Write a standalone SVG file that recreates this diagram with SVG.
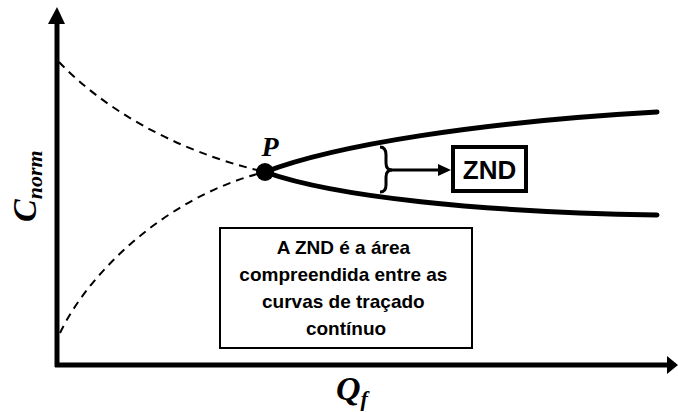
<svg xmlns="http://www.w3.org/2000/svg" width="678" height="412" viewBox="0 0 678 412">
<style>
.axis{stroke:#000;stroke-width:5;fill:none}
.solid{stroke:#000;stroke-width:5;fill:none;stroke-linecap:round}
.dash{stroke:#000;stroke-width:2;fill:none;stroke-dasharray:8,6}
.lbl{font-family:"Liberation Sans",Arial,sans-serif;font-weight:bold;fill:#000}
.math{font-family:"Liberation Serif","DejaVu Serif",serif;font-weight:bold;font-style:italic;fill:#000}
</style>
<rect width="678" height="412" fill="#fff"/>
<g id="connectors">
<line class="axis" x1="57" y1="367" x2="57" y2="22"/>
<polygon points="48,24 57,7 65,24" fill="#000"/>
<line class="axis" x1="55" y1="365" x2="668" y2="365"/>
<polygon points="667,356 678,365 667,374" fill="#000"/>
<path class="dash" d="M59,62 C100,105 170,150 265,172"/>
<path class="dash" d="M60,333 C90,270 170,195 265,172"/>
<path class="solid" d="M265,172 C335,145 480,122 657,112"/>
<path class="solid" d="M265,172 C335,197 480,212 657,215"/>
<path d="M380,147 Q386,147 386,155 L386,163 Q386,170 392,170 Q386,170 386,177 L386,185 Q386,192 380,192" stroke="#000" stroke-width="3" fill="none"/>
<line x1="388" y1="170" x2="440" y2="170" stroke="#000" stroke-width="3"/>
<polygon points="438,164 451,170 438,176" fill="#000"/>
</g>
<g id="point-P">
<circle cx="265" cy="172" r="9" fill="#000"/>
<text class="math" x="270" y="156" font-size="28" text-anchor="middle">P</text>
</g>
<g id="znd">
<rect x="453" y="147" width="73" height="44" fill="#fff" stroke="#000" stroke-width="4"/>
<text class="lbl" x="489.5" y="179" font-size="26" text-anchor="middle">ZND</text>
</g>
<g id="note">
<rect x="220" y="228" width="252" height="120" fill="#fff" stroke="#000" stroke-width="2"/>
<text class="lbl" font-size="19" text-anchor="middle">
<tspan x="346" y="254">A ZND é a área</tspan>
<tspan x="346" y="281">compreendida entre as</tspan>
<tspan x="346" y="308">curvas de traçado</tspan>
<tspan x="346" y="335">contínuo</tspan>
</text>
</g>
<g id="y-label">
<text class="math" transform="translate(36,222) rotate(-90)"><tspan font-size="34">C</tspan><tspan font-size="22" dy="6">norm</tspan></text>
</g>
<g id="x-label">
<text class="math" x="336" y="400"><tspan font-size="34">Q</tspan><tspan font-size="22" dy="6">f</tspan></text>
</g>
</svg>
